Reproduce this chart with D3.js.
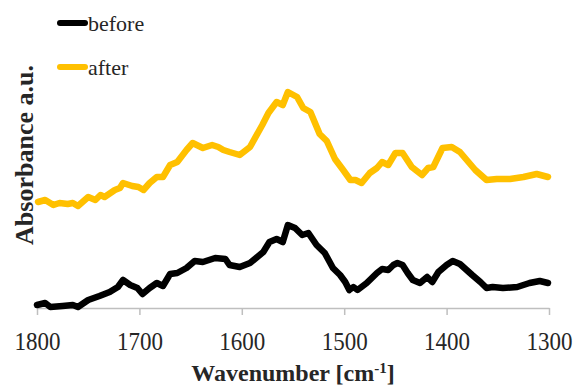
<!DOCTYPE html>
<html>
<head>
<meta charset="utf-8">
<script src="https://cdn.jsdelivr.net/npm/d3@7"></script>
<style>
  html, body { margin: 0; padding: 0; background: #fff; }
  svg { display: block; font-family: "Liberation Serif", "Times New Roman", serif; }
</style>
</head>
<body>
<div id="chart"></div>
<script>
// wavenumbers (cm-1) and absorbance (a.u.)
const beforeWn = [1800, 1792, 1787, 1775, 1765, 1760, 1750, 1739, 1729, 1721, 1716, 1709, 1702, 1697, 1690, 1683, 1677, 1670, 1663, 1654, 1646, 1638, 1626, 1616, 1612, 1602, 1592, 1579, 1573, 1566, 1560, 1555, 1548, 1541, 1535, 1527, 1519, 1511, 1504, 1499, 1495, 1491, 1487, 1478, 1468, 1463, 1457, 1452, 1448, 1443, 1438, 1433, 1426, 1419, 1414, 1408, 1400, 1394, 1387, 1375, 1367, 1361, 1355, 1345, 1331, 1319, 1309, 1301];
const beforeAbs = [0.012, 0.020, 0.004, 0.008, 0.012, 0.004, 0.032, 0.048, 0.064, 0.084, 0.112, 0.092, 0.080, 0.056, 0.080, 0.100, 0.088, 0.136, 0.140, 0.160, 0.188, 0.184, 0.200, 0.196, 0.172, 0.164, 0.180, 0.224, 0.264, 0.276, 0.264, 0.332, 0.320, 0.292, 0.300, 0.252, 0.220, 0.160, 0.132, 0.104, 0.072, 0.084, 0.072, 0.100, 0.140, 0.156, 0.152, 0.172, 0.180, 0.172, 0.140, 0.112, 0.100, 0.124, 0.104, 0.144, 0.172, 0.188, 0.176, 0.132, 0.104, 0.080, 0.084, 0.080, 0.084, 0.100, 0.108, 0.100];

const afterWn = [1799, 1792, 1784, 1778, 1770, 1765, 1760, 1750, 1743, 1738, 1734, 1724, 1719, 1716, 1707, 1701, 1696, 1690, 1683, 1677, 1670, 1663, 1654, 1648, 1638, 1629, 1623, 1618, 1612, 1602, 1592, 1580, 1574, 1566, 1560, 1555, 1546, 1540, 1533, 1524, 1517, 1509, 1501, 1494, 1489, 1483, 1475, 1468, 1463, 1457, 1450, 1443, 1434, 1424, 1418, 1413, 1404, 1395, 1387, 1372, 1361, 1351, 1338, 1325, 1312, 1301];
const afterAbs = [0.424, 0.432, 0.412, 0.420, 0.416, 0.420, 0.408, 0.444, 0.432, 0.452, 0.444, 0.472, 0.480, 0.500, 0.488, 0.484, 0.472, 0.500, 0.524, 0.524, 0.572, 0.584, 0.632, 0.660, 0.640, 0.652, 0.644, 0.632, 0.624, 0.612, 0.644, 0.732, 0.780, 0.824, 0.812, 0.864, 0.844, 0.800, 0.784, 0.696, 0.668, 0.596, 0.552, 0.512, 0.512, 0.500, 0.540, 0.560, 0.584, 0.572, 0.620, 0.620, 0.564, 0.532, 0.560, 0.564, 0.640, 0.644, 0.624, 0.552, 0.512, 0.516, 0.516, 0.524, 0.536, 0.524];

const xTicks = [1800, 1700, 1600, 1500, 1400, 1300];
const seriesNames = ['before', 'after'];
const seriesColors = ['#000000', '#FFC000'];

const width = 574, height = 387;
const serif = '"Liberation Serif", "Times New Roman", serif';
const svg = d3.select('#chart').append('svg')
    .attr('width', width)
    .attr('height', height);

const x = d3.scaleLinear().domain([1800, 1300]).range([37, 549]);
const y = d3.scaleLinear().domain([0, 1]).range([308, 58]);

// x axis
const xAxis = svg.append('g')
    .attr('transform', `translate(0,${y(0)})`)
    .call(d3.axisBottom(x).tickValues(xTicks).tickSize(7).tickSizeOuter(0).tickPadding(17).tickFormat(d3.format('d')))
    .attr('font-family', serif)
    .attr('font-size', 25);
xAxis.select('.domain').attr('stroke', '#bfbfbf').attr('stroke-width', 1.5);
xAxis.selectAll('.tick line').attr('stroke', '#bfbfbf').attr('stroke-width', 1.5);
xAxis.selectAll('.tick text')
    .attr('fill', '#262626')
    .attr('transform', 'scale(0.92,1)');

// lines
const line = d3.line()
    .x(d => x(d[0]))
    .y(d => y(d[1]))
    .curve(d3.curveLinear);

const series = [
    d3.zip(beforeWn, beforeAbs),
    d3.zip(afterWn, afterAbs)
];

svg.append('g')
    .selectAll('path')
    .data(series)
    .join('path')
    .attr('fill', 'none')
    .attr('stroke', (d, i) => seriesColors[i])
    .attr('stroke-width', 6.5)
    .attr('stroke-linejoin', 'round')
    .attr('stroke-linecap', 'round')
    .attr('d', line);

// axis titles
const xTitle = svg.append('text')
    .attr('x', (x.range()[0] + x.range()[1]) / 2)
    .attr('y', 381)
    .attr('text-anchor', 'middle')
    .attr('fill', '#262626')
    .attr('font-family', serif)
    .attr('font-size', 24)
    .attr('font-weight', 'bold');
xTitle.append('tspan').text('Wavenumber [cm');
xTitle.append('tspan').attr('dy', -8).attr('font-size', 15).text('-1');
xTitle.append('tspan').attr('dy', 8).text(']');

svg.append('text')
    .attr('transform', 'translate(33,155) rotate(-90)')
    .attr('text-anchor', 'middle')
    .attr('fill', '#262626')
    .attr('font-family', serif)
    .attr('font-size', 26)
    .attr('font-weight', 'bold')
    .text('Absorbance a.u.');

// legend
const legend = svg.append('g')
    .selectAll('g')
    .data(seriesNames)
    .join('g')
    .attr('transform', (d, i) => `translate(0,${23 + i * 44})`);
legend.append('line')
    .attr('x1', 60).attr('x2', 85)
    .attr('stroke', (d, i) => seriesColors[i])
    .attr('stroke-width', 6)
    .attr('stroke-linecap', 'round');
legend.append('text')
    .attr('x', 88)
    .attr('y', 7.5)
    .attr('fill', '#262626')
    .attr('font-family', serif)
    .attr('font-size', 22)
    .text(d => d);
</script>
</body>
</html>
